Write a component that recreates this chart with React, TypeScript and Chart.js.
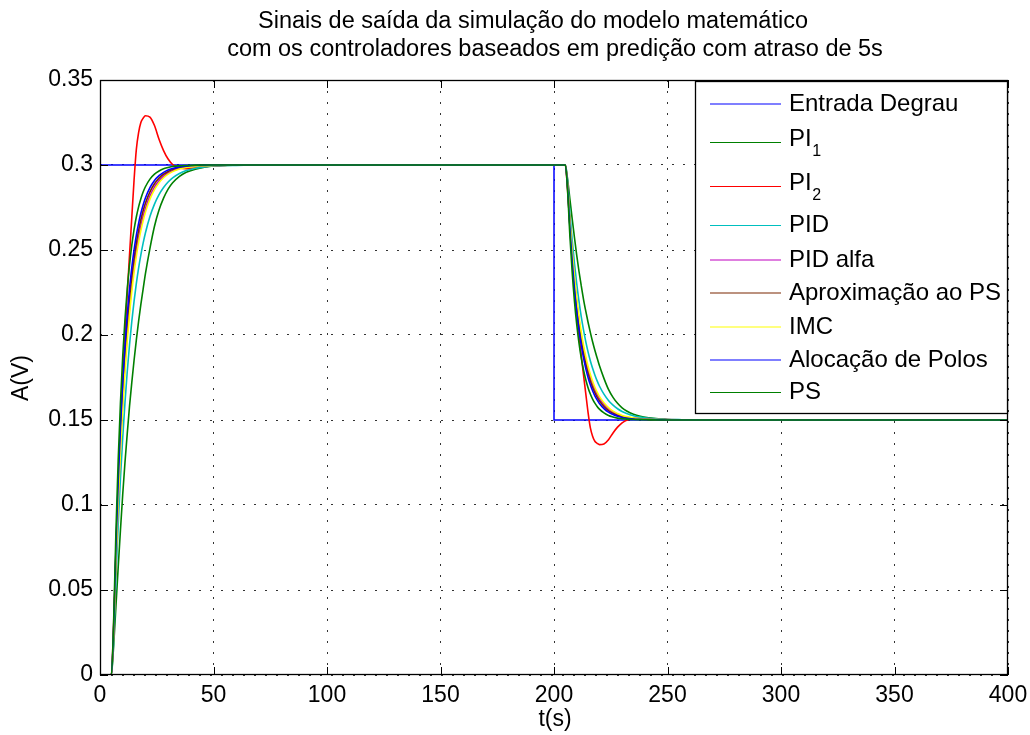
import React, { useEffect, useRef } from "react";
import { Chart, registerables } from "chart.js";

Chart.register(...registerables);

const FONT = '"Liberation Sans", Arial, Helvetica, sans-serif';

// ---------- data ----------
const titleLines = [
  "Sinais de saída da simulação do modelo matemático",
  "com os controladores baseados em predição com atraso de 5s",
];
const xAxisTitle = "t(s)";
const yAxisTitle = "A(V)";

const xTicks = [0, 50, 100, 150, 200, 250, 300, 350, 400];
const xTickLabels = ["0", "50", "100", "150", "200", "250", "300", "350", "400"];
const yTicks = [0, 0.05, 0.1, 0.15, 0.2, 0.25, 0.3, 0.35];
const yTickLabels = ["0", "0.05", "0.1", "0.15", "0.2", "0.25", "0.3", "0.35"];

// step input (Entrada Degrau)
const stepTimes = [0, 0, 200, 200, 400];
const stepValues = [0, 0.3, 0.3, 0.15, 0.15];

// sample instants shared by the controller outputs
const times = [
  0, 5, 6, 7, 8, 9, 10, 11, 12, 13, 14, 15, 16, 17, 18, 19, 20, 22, 24, 26, 28, 30, 32, 35, 38, 42, 46, 50, 55, 60, 70,
  200, 205, 206, 207, 208, 209, 210, 211, 212, 213, 214, 215, 216, 217, 218, 219, 220, 222, 224, 226, 228, 230, 232, 235, 238, 242, 246, 250, 255, 260, 270,
  400,
];

const piOne = [
  0, 0, 0.017, 0.04, 0.063, 0.085, 0.106, 0.125, 0.142, 0.158, 0.172, 0.185, 0.197, 0.208, 0.218, 0.227, 0.236, 0.251, 0.264, 0.2735, 0.2805, 0.2858, 0.2895, 0.2933, 0.2957, 0.2975, 0.2987, 0.2994, 0.2998, 0.2999, 0.3,
  0.3, 0.3, 0.2915, 0.28, 0.2685, 0.2575, 0.247, 0.2375, 0.229, 0.221, 0.214, 0.2075, 0.2015, 0.196, 0.191, 0.1865, 0.182, 0.1745, 0.168, 0.1633, 0.1598, 0.1571, 0.1553, 0.1534, 0.1522, 0.1513, 0.1507, 0.1503, 0.1501, 0.15, 0.15,
  0.15,
];
const piTwo = [
  0, 0, 0.03, 0.072, 0.11, 0.145, 0.175, 0.2, 0.224, 0.247, 0.269, 0.291, 0.309, 0.319, 0.325, 0.3275, 0.329, 0.3282, 0.3232, 0.3152, 0.3085, 0.3035, 0.3003, 0.2982, 0.2978, 0.2983, 0.299, 0.2995, 0.2998, 0.3, 0.3,
  0.3, 0.3, 0.285, 0.264, 0.245, 0.2275, 0.2125, 0.2, 0.188, 0.1765, 0.1655, 0.1545, 0.1455, 0.1405, 0.1375, 0.1363, 0.1355, 0.1359, 0.1384, 0.1424, 0.1458, 0.1483, 0.1499, 0.1509, 0.1511, 0.1509, 0.1505, 0.1503, 0.1501, 0.15, 0.15,
  0.15,
];
const pid = [
  0, 0, 0.0201, 0.0564, 0.088, 0.1155, 0.1394, 0.1602, 0.1784, 0.1941, 0.2079, 0.2198, 0.2302, 0.2393, 0.2471, 0.254, 0.26, 0.2697, 0.277, 0.2826, 0.2868, 0.29, 0.2924, 0.295, 0.2967, 0.2981, 0.2989, 0.2994, 0.2997, 0.2998, 0.3,
  0.3, 0.3, 0.29, 0.2718, 0.256, 0.2423, 0.2303, 0.2199, 0.2108, 0.203, 0.1961, 0.1901, 0.1849, 0.1804, 0.1765, 0.173, 0.17, 0.1652, 0.1615, 0.1587, 0.1566, 0.155, 0.1538, 0.1525, 0.1517, 0.151, 0.1506, 0.1503, 0.1502, 0.1501, 0.15,
  0.15,
];
const pidAlfa = [
  0, 0, 0.0244, 0.0673, 0.1036, 0.1342, 0.1601, 0.1819, 0.2003, 0.2159, 0.229, 0.24, 0.2494, 0.2573, 0.2639, 0.2696, 0.2743, 0.2817, 0.287, 0.2907, 0.2934, 0.2953, 0.2966, 0.298, 0.2988, 0.2994, 0.2997, 0.2998, 0.2999, 0.3, 0.3,
  0.3, 0.3, 0.2878, 0.2664, 0.2482, 0.2329, 0.22, 0.2091, 0.1999, 0.1921, 0.1855, 0.18, 0.1753, 0.1714, 0.1681, 0.1652, 0.1629, 0.1592, 0.1565, 0.1547, 0.1533, 0.1524, 0.1517, 0.151, 0.1506, 0.1503, 0.1502, 0.1501, 0.15, 0.15, 0.15,
  0.15,
];
const aproxPS = [
  0, 0, 0.0256, 0.0705, 0.108, 0.1394, 0.1657, 0.1877, 0.206, 0.2214, 0.2342, 0.245, 0.254, 0.2615, 0.2678, 0.2731, 0.2775, 0.2842, 0.289, 0.2923, 0.2946, 0.2962, 0.2974, 0.2985, 0.2991, 0.2996, 0.2998, 0.2999, 0.3, 0.3, 0.3,
  0.3, 0.3, 0.2872, 0.2648, 0.246, 0.2303, 0.2172, 0.2062, 0.197, 0.1893, 0.1829, 0.1775, 0.173, 0.1693, 0.1661, 0.1635, 0.1613, 0.1579, 0.1555, 0.1539, 0.1527, 0.1519, 0.1513, 0.1508, 0.1505, 0.1502, 0.1501, 0.15, 0.15, 0.15, 0.15,
  0.15,
];
const imc = [
  0, 0, 0.0236, 0.0654, 0.1009, 0.131, 0.1565, 0.1782, 0.1966, 0.2123, 0.2255, 0.2368, 0.2463, 0.2545, 0.2614, 0.2672, 0.2722, 0.2799, 0.2855, 0.2896, 0.2925, 0.2946, 0.2961, 0.2976, 0.2985, 0.2992, 0.2996, 0.2998, 0.2999, 0.3, 0.3,
  0.3, 0.3, 0.2882, 0.2673, 0.2496, 0.2345, 0.2218, 0.2109, 0.2017, 0.1939, 0.1873, 0.1816, 0.1769, 0.1728, 0.1693, 0.1664, 0.1639, 0.1601, 0.1573, 0.1552, 0.1538, 0.1527, 0.152, 0.1512, 0.1508, 0.1504, 0.1502, 0.1501, 0.15, 0.15, 0.15,
  0.15,
];
const alocacao = [
  0, 0, 0.027, 0.074, 0.1128, 0.145, 0.1717, 0.1937, 0.212, 0.2271, 0.2397, 0.25, 0.2586, 0.2657, 0.2716, 0.2765, 0.2806, 0.2867, 0.2909, 0.2937, 0.2957, 0.2971, 0.298, 0.2989, 0.2993, 0.2997, 0.2999, 0.3, 0.3, 0.3, 0.3,
  0.3, 0.3, 0.2865, 0.263, 0.2436, 0.2275, 0.2142, 0.2032, 0.194, 0.1865, 0.1802, 0.175, 0.1707, 0.1672, 0.1642, 0.1618, 0.1597, 0.1567, 0.1546, 0.1532, 0.1522, 0.1515, 0.151, 0.1506, 0.1504, 0.1502, 0.1501, 0.15, 0.15, 0.15, 0.15,
  0.15,
];
const ps = [
  0, 0, 0.031, 0.0835, 0.1258, 0.1598, 0.1872, 0.2093, 0.227, 0.2412, 0.2527, 0.262, 0.2694, 0.2754, 0.2802, 0.2841, 0.2872, 0.2917, 0.2946, 0.2965, 0.2978, 0.2985, 0.2991, 0.2995, 0.2997, 0.2999, 0.3, 0.3, 0.3, 0.3, 0.3,
  0.3, 0.3, 0.2845, 0.2583, 0.2371, 0.2201, 0.2064, 0.1954, 0.1865, 0.1794, 0.1737, 0.169, 0.1653, 0.1623, 0.1599, 0.158, 0.1564, 0.1542, 0.1527, 0.1518, 0.1511, 0.1508, 0.1505, 0.1503, 0.1502, 0.1501, 0.15, 0.15, 0.15, 0.15, 0.15,
  0.15,
];

const seriesNames = ["Entrada Degrau", "PI", "PI", "PID", "PID alfa", "Aproximação ao PS", "IMC", "Alocação de Polos", "PS"];
const seriesSubs = ["", "1", "2", "", "", "", "", "", ""];
const seriesColors = ["#0000ff", "#008000", "#ff0000", "#00bfbf", "#bf00bf", "#7a2600", "#ffff00", "#0000ff", "#008000"];

export default function App() {
  const ref = useRef<HTMLCanvasElement>(null);

  useEffect(() => {
    const canvas = ref.current;
    if (!canvas) return;

    const outputs = [piOne, piTwo, pid, pidAlfa, aproxPS, imc, alocacao, ps];
    const n = outputs.length + 1;

    const datasets: any[] = [
      {
        label: seriesNames[0],
        data: stepTimes.map((t, i) => ({ x: t, y: stepValues[i] })),
        borderColor: seriesColors[0],
        borderWidth: 1.5,
        pointRadius: 0,
        tension: 0,
        fill: false,
        order: n,
      },
    ];
    outputs.forEach((vals, k) => {
      datasets.push({
        label: seriesNames[k + 1] + seriesSubs[k + 1],
        data: times.map((t, i) => ({ x: t, y: vals[i] })),
        borderColor: seriesColors[k + 1],
        borderWidth: 1.6,
        pointRadius: 0,
        cubicInterpolationMode: "monotone",
        fill: false,
        order: n - (k + 1),
      });
    });

    const decor = {
      id: "decor",
      afterDraw(chart: any) {
        const ctx = chart.ctx as CanvasRenderingContext2D;
        const { left, right, top, bottom } = chart.chartArea;
        const xs = chart.scales.x;
        const ys = chart.scales.y;
        ctx.save();
        // inward tick marks on all four sides
        ctx.strokeStyle = "#000";
        ctx.lineWidth = 1;
        const tl = 8;
        ctx.beginPath();
        xTicks.forEach((v) => {
          const p = Math.round(xs.getPixelForValue(v)) + 0.5;
          ctx.moveTo(p, bottom);
          ctx.lineTo(p, bottom - tl);
          ctx.moveTo(p, top);
          ctx.lineTo(p, top + tl);
        });
        yTicks.forEach((v) => {
          const p = Math.round(ys.getPixelForValue(v)) + 0.5;
          ctx.moveTo(left, p);
          ctx.lineTo(left + tl, p);
          ctx.moveTo(right, p);
          ctx.lineTo(right - tl, p);
        });
        ctx.stroke();
        // axes box
        ctx.lineWidth = 1.3;
        ctx.strokeRect(left + 0.5, top + 0.5, right - left - 1, bottom - top - 1);

        // legend
        const lx = 695, ly = 81, lw = 313, lh = 333;
        ctx.fillStyle = "#fff";
        ctx.fillRect(lx, ly, lw, lh);
        ctx.lineWidth = 1.3;
        ctx.strokeStyle = "#000";
        ctx.strokeRect(lx + 0.5, ly + 0.5, lw - 1, lh - 1);
        const rows = [104, 142.5, 186.5, 225.5, 260, 293, 327, 360, 392.5];
        seriesNames.forEach((name, i) => {
          const y = rows[i];
          ctx.strokeStyle = seriesColors[i];
          ctx.lineWidth = 1.2;
          ctx.beginPath();
          ctx.moveTo(710, y);
          ctx.lineTo(781, y);
          ctx.stroke();
          ctx.fillStyle = "#000";
          ctx.textAlign = "left";
          ctx.textBaseline = "middle";
          ctx.font = `24px ${FONT}`;
          if (seriesSubs[i]) {
            ctx.fillText(name, 789, y - 3);
            const w = ctx.measureText(name).width;
            ctx.font = `16px ${FONT}`;
            ctx.fillText(seriesSubs[i], 789 + w + 0.5, y + 9.5);
          } else {
            ctx.fillText(name, 789, y);
          }
        });

        // title
        ctx.fillStyle = "#000";
        ctx.textAlign = "center";
        ctx.textBaseline = "alphabetic";
        ctx.font = `23.5px ${FONT}`;
        ctx.fillText(titleLines[0], 533, 28);
        ctx.fillText(titleLines[1], 555, 56);

        // axis titles
        ctx.font = `23px ${FONT}`;
        ctx.textBaseline = "middle";
        ctx.fillText(xAxisTitle, 555, 720);
        ctx.save();
        ctx.translate(22, 378);
        ctx.rotate(-Math.PI / 2);
        ctx.fillText(yAxisTitle, 0, 0);
        ctx.restore();
        ctx.restore();
      },
    };

    const chart = new Chart(canvas, {
      type: "line",
      data: { datasets },
      options: {
        responsive: false,
        devicePixelRatio: 1,
        animation: false,
        events: [],
        layout: { padding: { left: 0, right: 22, top: 80, bottom: 0 } },
        plugins: {
          legend: { display: false },
          title: { display: false },
          tooltip: { enabled: false },
        },
        scales: {
          x: {
            type: "linear",
            min: 0,
            max: 400,
            afterBuildTicks: (s: any) => {
              s.ticks = xTicks.map((v) => ({ value: v }));
            },
            afterFit: (s: any) => {
              s.height = 60;
              s.paddingLeft = 0;
              s.paddingRight = 0;
            },
            ticks: {
              autoSkip: false,
              maxRotation: 0,
              padding: 7,
              color: "#000",
              font: { family: FONT, size: 23 },
              callback: (_v: any, i: number) => xTickLabels[i],
            },
            grid: { color: "#333", lineWidth: 1, drawTicks: false, drawOnChartArea: true },
            border: { display: false, dash: [2, 9] },
          },
          y: {
            type: "linear",
            min: 0,
            max: 0.35,
            afterBuildTicks: (s: any) => {
              s.ticks = yTicks.map((v) => ({ value: v }));
            },
            afterFit: (s: any) => {
              s.width = 100;
              s.paddingTop = 0;
              s.paddingBottom = 0;
            },
            ticks: {
              autoSkip: false,
              padding: 7,
              color: "#000",
              font: { family: FONT, size: 23 },
              callback: (_v: any, i: number) => yTickLabels[i],
            },
            grid: { color: "#333", lineWidth: 1, drawTicks: false, drawOnChartArea: true },
            border: { display: false, dash: [2, 9] },
          },
        },
      },
      plugins: [decor],
    } as any);

    return () => chart.destroy();
  }, []);

  return (
    <div style={{ position: "absolute", left: 0, top: 0, width: 1030, height: 735, background: "#fff" }}>
      <canvas ref={ref} width={1030} height={735} style={{ display: "block", width: 1030, height: 735 }} />
    </div>
  );
}
